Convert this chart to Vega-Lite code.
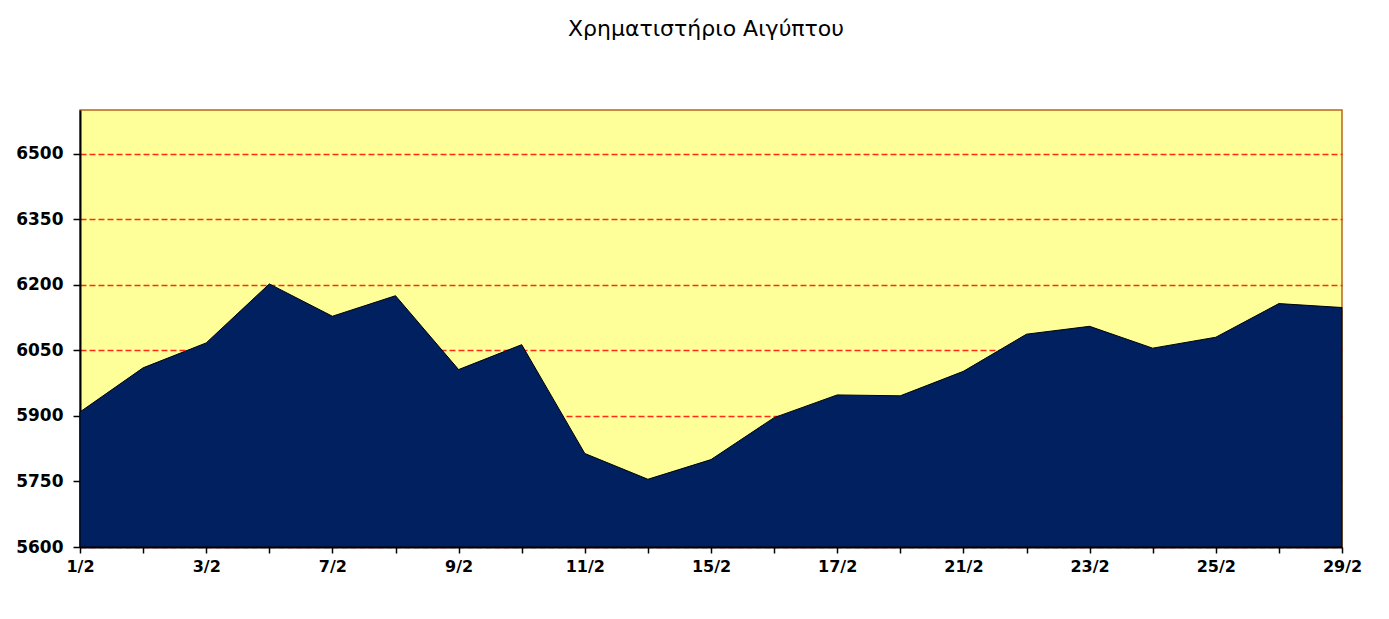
{
  "$schema": "https://vega.github.io/schema/vega-lite/v6.json",
  "autosize": "none",
  "width": 1262,
  "height": 437,
  "padding": {"left": 80, "top": 110, "right": 47, "bottom": 72},
  "background": "white",
  "title": {
    "text": "Χρηματιστήριο Αιγύπτου",
    "font": "DejaVu Sans",
    "fontSize": 22,
    "fontWeight": 500,
    "color": "black",
    "anchor": "middle",
    "baseline": "alphabetic",
    "offset": 52,
    "dx": -5
  },
  "config": {
    "view": {"fill": "#FFFF99", "stroke": "#B8651B", "strokeWidth": 1.5}
  },
  "data": {
    "values": [
      {"date": "1/2", "value": 5909},
      {"date": "2/2", "value": 6010},
      {"date": "3/2", "value": 6067},
      {"date": "4/2", "value": 6202},
      {"date": "7/2", "value": 6128},
      {"date": "8/2", "value": 6175},
      {"date": "9/2", "value": 6006},
      {"date": "10/2", "value": 6063},
      {"date": "11/2", "value": 5814},
      {"date": "14/2", "value": 5755},
      {"date": "15/2", "value": 5800},
      {"date": "16/2", "value": 5896},
      {"date": "17/2", "value": 5948},
      {"date": "18/2", "value": 5946},
      {"date": "21/2", "value": 6002},
      {"date": "22/2", "value": 6087},
      {"date": "23/2", "value": 6105},
      {"date": "24/2", "value": 6055},
      {"date": "25/2", "value": 6080},
      {"date": "28/2", "value": 6157},
      {"date": "29/2", "value": 6148}
    ]
  },
  "mark": {"type": "area", "color": "#002060", "stroke": "black", "strokeWidth": 1, "opacity": 1},
  "encoding": {
    "x": {
      "field": "date",
      "type": "ordinal",
      "sort": null,
      "scale": {"type": "point", "padding": 0},
      "axis": {
        "title": null,
        "labelAngle": 0,
        "labelOverlap": false,
        "labelExpr": "indexof(['1/2','3/2','7/2','9/2','11/2','15/2','17/2','21/2','23/2','25/2','29/2'], datum.value) >= 0 ? datum.value : ''",
        "labelFont": "DejaVu Sans",
        "labelFontSize": 16,
        "labelFontWeight": "bold",
        "labelColor": "black",
        "labelPadding": 5,
        "domainColor": "black",
        "domainWidth": 2,
        "tickColor": "black",
        "tickSize": 6,
        "tickWidth": 1.5,
        "grid": false
      }
    },
    "y": {
      "field": "value",
      "type": "quantitative",
      "scale": {"domain": [5600, 6600], "nice": false, "zero": false},
      "axis": {
        "title": null,
        "format": "d",
        "values": [5600, 5750, 5900, 6050, 6200, 6350, 6500],
        "labelFont": "DejaVu Sans",
        "labelFontSize": 17,
        "labelFontWeight": "bold",
        "labelColor": "black",
        "labelPadding": 10,
        "domainColor": "black",
        "domainWidth": 2,
        "tickColor": "black",
        "tickSize": 7,
        "tickWidth": 1.5,
        "grid": true,
        "gridColor": "#FF2A1A",
        "gridDash": [6, 3],
        "gridWidth": 1.3
      }
    },
    "y2": {"datum": 5600}
  }
}
